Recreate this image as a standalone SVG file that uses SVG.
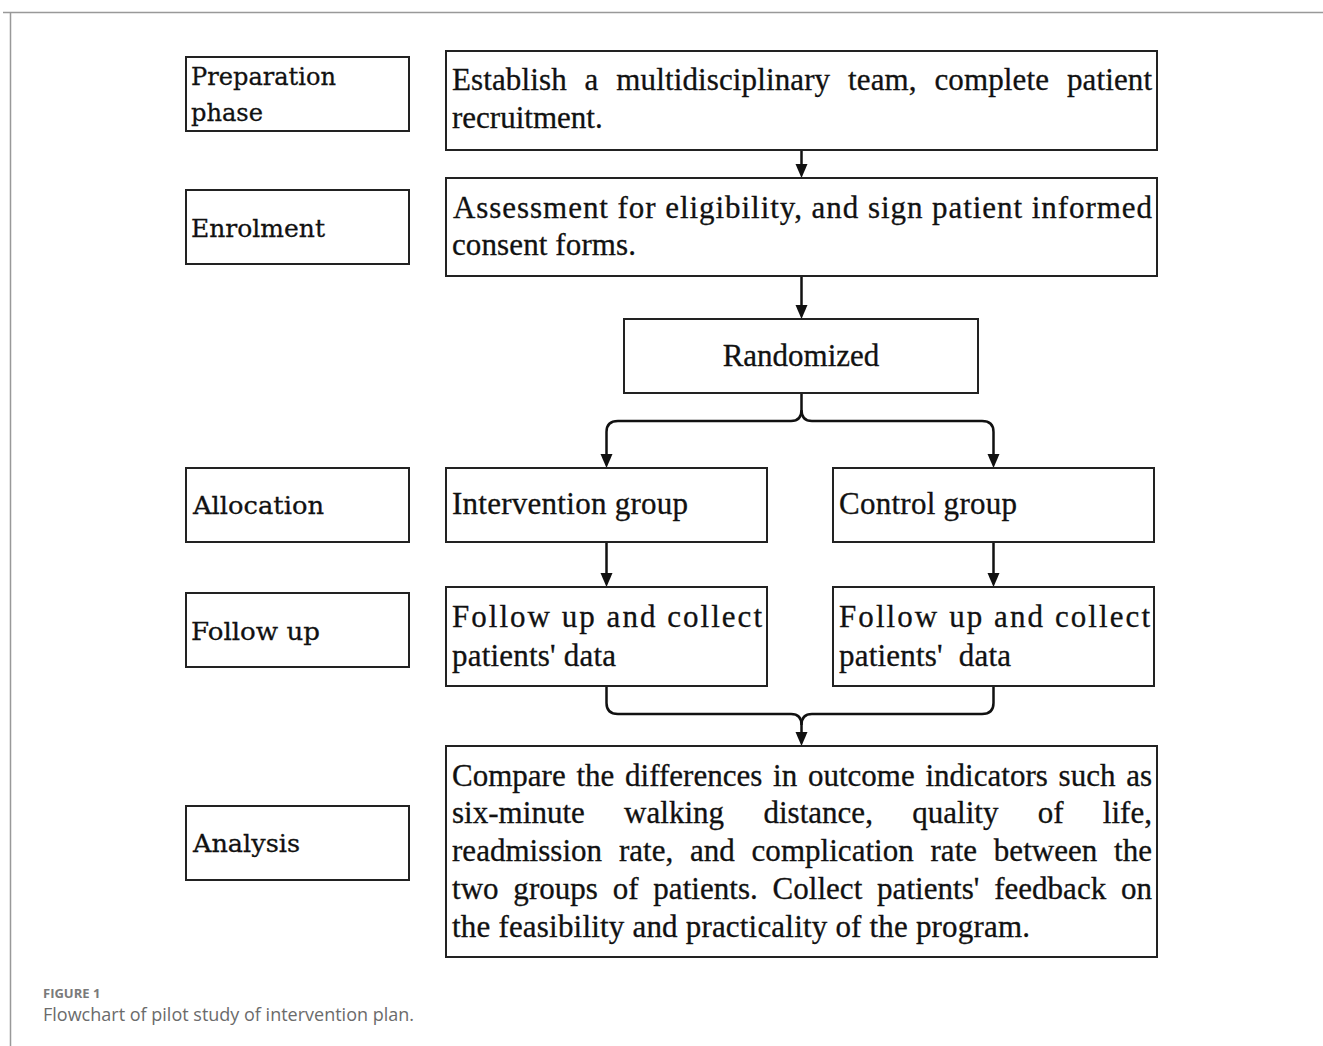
<svg xmlns="http://www.w3.org/2000/svg" width="1323" height="1046" viewBox="0 0 1323 1046">
<style>
.box{fill:#fff;stroke:#222;stroke-width:2}
.t{font-family:'Liberation Serif','Times New Roman',Times,serif;font-size:31px;fill:#111;stroke:#111;stroke-width:0.3}
.l{font-family:'DejaVu Serif','Liberation Serif',serif;font-size:25px;fill:#111;stroke:#111;stroke-width:0.3}
.c{fill:none;stroke:#111;stroke-width:2.5}
.frame{fill:none;stroke:#999;stroke-width:1.5}
</style>
<rect width="1323" height="1046" fill="#fff"/>
<path class="frame" d="M3,12.5 H1323 M10.5,12 V1046"/>

<g id="connectors">
<path class="c" d="M801.5,150 V164"/>
<path d="M795.5,164 H807.5 L801.5,178 Z" fill="#111"/>
<path class="c" d="M801.5,276 V305"/>
<path d="M795.5,305 H807.5 L801.5,319 Z" fill="#111"/>
<path class="c" d="M801.5,393 V410 Q801.5,421 791,421 H618 Q606.5,421 606.5,432 V454"/>
<path d="M600.5,454 H612.5 L606.5,468 Z" fill="#111"/>
<path class="c" d="M801.5,410 Q801.5,421 812,421 H982 Q993.5,421 993.5,432 V454"/>
<path d="M987.5,454 H999.5 L993.5,468 Z" fill="#111"/>
<path class="c" d="M606.5,542 V573"/>
<path d="M600.5,573 H612.5 L606.5,587 Z" fill="#111"/>
<path class="c" d="M993.5,542 V573"/>
<path d="M987.5,573 H999.5 L993.5,587 Z" fill="#111"/>
<path class="c" d="M606.5,686 V703 Q606.5,714 618,714 H791 Q801.5,714 801.5,725 V732"/>
<path class="c" d="M993.5,686 V703 Q993.5,714 982,714 H812 Q801.5,714 801.5,725"/>
<path d="M795.5,732 H807.5 L801.5,746 Z" fill="#111"/>
</g>

<g id="label-preparation">
<rect class="box" x="186" y="57" width="223" height="74"/>
<text class="l" x="191" y="85" textLength="145" lengthAdjust="spacingAndGlyphs">Preparation</text>
<text class="l" x="191" y="121" textLength="72" lengthAdjust="spacingAndGlyphs">phase</text>
</g>
<g id="label-enrolment">
<rect class="box" x="186" y="190" width="223" height="74"/>
<text class="l" x="191" y="237" textLength="134" lengthAdjust="spacingAndGlyphs">Enrolment</text>
</g>
<g id="label-allocation">
<rect class="box" x="186" y="468" width="223" height="74"/>
<text class="l" x="193" y="514" textLength="131" lengthAdjust="spacingAndGlyphs">Allocation</text>
</g>
<g id="label-followup">
<rect class="box" x="186" y="593" width="223" height="74"/>
<text class="l" x="191" y="640" textLength="129" lengthAdjust="spacingAndGlyphs">Follow up</text>
</g>
<g id="label-analysis">
<rect class="box" x="186" y="806" width="223" height="74"/>
<text class="l" x="193" y="852" textLength="107" lengthAdjust="spacingAndGlyphs">Analysis</text>
</g>

<g id="node-establish">
<rect class="box" x="446" y="51" width="711" height="99"/>
<text class="t" x="452" y="90" word-spacing="10" textLength="700" lengthAdjust="spacing">Establish a multidisciplinary team, complete patient</text>
<text class="t" x="452" y="128">recruitment.</text>
</g>
<g id="node-assessment">
<rect class="box" x="446" y="178" width="711" height="98"/>
<text class="t" x="453" y="218" textLength="699" lengthAdjust="spacing">Assessment for eligibility, and sign patient informed</text>
<text class="t" x="452" y="255" textLength="184" lengthAdjust="spacing">consent forms.</text>
</g>
<g id="node-randomized">
<rect class="box" x="624" y="319" width="354" height="74"/>
<text class="t" x="801" y="366" text-anchor="middle">Randomized</text>
</g>
<g id="node-intervention">
<rect class="box" x="446" y="468" width="321" height="74"/>
<text class="t" x="452" y="514" textLength="236" lengthAdjust="spacing">Intervention group</text>
</g>
<g id="node-control">
<rect class="box" x="833" y="468" width="321" height="74"/>
<text class="t" x="839" y="514" textLength="178" lengthAdjust="spacing">Control group</text>
</g>
<g id="node-followup-left">
<rect class="box" x="446" y="587" width="321" height="99"/>
<text class="t" x="452" y="627" textLength="310" lengthAdjust="spacing">Follow up and collect</text>
<text class="t" x="452" y="666" textLength="164" lengthAdjust="spacing">patients' data</text>
</g>
<g id="node-followup-right">
<rect class="box" x="833" y="587" width="321" height="99"/>
<text class="t" x="839" y="627" textLength="311" lengthAdjust="spacing">Follow up and collect</text>
<text class="t" x="839" y="666" word-spacing="8" textLength="172" lengthAdjust="spacing">patients' data</text>
</g>
<g id="node-compare">
<rect class="box" x="446" y="746" width="711" height="211"/>
<text class="t" x="452" y="786" word-spacing="3" textLength="700" lengthAdjust="spacing">Compare the differences in outcome indicators such as</text>
<text class="t" x="452" y="823" word-spacing="31.5" textLength="700" lengthAdjust="spacing">six-minute walking distance, quality of life,</text>
<text class="t" x="452" y="861" word-spacing="9" textLength="700" lengthAdjust="spacing">readmission rate, and complication rate between the</text>
<text class="t" x="452" y="899" word-spacing="7" textLength="700" lengthAdjust="spacing">two groups of patients. Collect patients' feedback on</text>
<text class="t" x="452" y="937" textLength="578" lengthAdjust="spacing">the feasibility and practicality of the program.</text>
</g>

<g id="caption">
<text x="43" y="998" font-family="'Open Sans','Noto Sans',sans-serif" font-size="13" font-weight="bold" fill="#7a7a7a">FIGURE 1</text>
<text x="43" y="1021" font-family="'Open Sans','Noto Sans',sans-serif" font-size="18" fill="#6b6b6b">Flowchart of pilot study of intervention plan.</text>
</g>
</svg>
